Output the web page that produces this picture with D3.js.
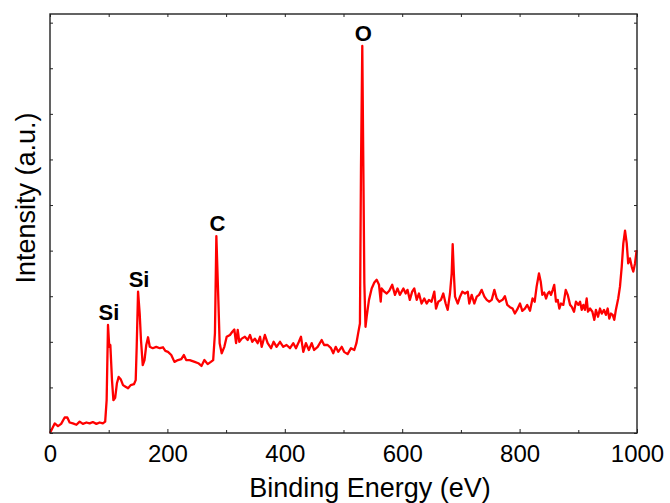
<!DOCTYPE html>
<html>
<head>
<meta charset="utf-8">
<script src="https://cdn.jsdelivr.net/npm/d3@7"></script>
<style>
  body { margin: 0; background: #fff; }
  svg text { font-family: "Liberation Sans", Arial, sans-serif; fill: #000; }
  .frame { fill: none; stroke: #222; stroke-width: 1.4; }
  .axis path { display: none; }
  .axis line { stroke: #222; stroke-width: 1; }
  .spectrum { fill: none; stroke: #ff0000; stroke-width: 2.3; stroke-linejoin: round; }
</style>
</head>
<body>
<script>

// Binding energy (eV).
var energy = [
  0, 8, 13.6, 19, 25, 29.5, 33.5, 39, 45, 50.5, 56, 62, 67.6, 73, 79, 84.6, 90, 94,
  96.5, 98.8, 101, 102.8, 105.6, 108, 111, 114, 117, 120.4, 124.4, 128, 133, 137.5,
  143, 146, 147.7, 150, 152.8, 155, 158, 161, 164, 167, 170, 175, 181, 187, 192.5,
  196.5, 201, 206.6, 212, 218, 223.7, 228, 232, 238, 246.5, 252.6, 258, 263, 268.6,
  274, 278, 281, 283.4, 286.8, 289, 292.5, 297, 301, 306.6, 310.6, 314, 317, 319.8,
  322.5, 326.6, 332, 336.8, 340.7, 344.6, 349, 353.8, 357.8, 360.6, 366, 370.8,
  376.5, 381, 386, 391.8, 397.4, 403, 408.9, 414.5, 419, 424, 427.6, 431.5, 436,
  441, 445.8, 450, 456, 462.8, 467, 473, 478.7, 482.6, 486.7, 491, 497, 501, 507,
  512.8, 518.4, 522, 525, 528, 529.8, 532, 533.8, 535.5, 537.5, 539.5, 543.4, 548,
  552.5, 556.5, 560.5, 563.4, 565, 569.5, 573.6, 578, 583, 587.7, 592, 596, 602,
  606, 609, 613, 617, 620.6, 624.7, 628.6, 633, 637.6, 641.7, 645.6, 650, 654.7,
  657.6, 661.5, 666, 670, 674, 677.5, 681.4, 684.3, 686, 688, 690, 694.6, 698.5,
  702.4, 707, 711.6, 714.3, 718.4, 722.8, 727, 731, 735.4, 740, 744, 748, 752.5,
  757, 761, 765.4, 771, 775, 779, 783.6, 788, 792, 796, 800.7, 804.6, 809, 813,
  817.7, 822, 825.7, 829, 833, 836, 838.7, 842, 845, 848, 850.6, 853.5, 856.4, 859,
  862, 865, 867.7, 870.5, 874.5, 878.6, 882, 886, 888.8, 892.7, 896, 900, 903,
  905.8, 908.6, 911.4, 914.3, 916.5, 920, 924, 927.3, 930, 933.6, 937, 940, 943.8,
  947, 950, 952.8, 955.7, 958.6, 961.3, 964, 968, 971, 974, 976.7, 979.6, 982.5,
  985, 988, 991, 993.7, 996.6, 999.4
];

// Intensity (arbitrary units, one unit per axis tick).
var intensity = [
  0, 0.21, 0.15, 0.2, 0.34, 0.34, 0.23, 0.21, 0.18, 0.25, 0.2, 0.23, 0.21, 0.24, 0.2, 0.23, 0.21, 0.25,
  0.72, 2.37, 1.89, 1.93, 1.16, 0.72, 0.77, 1.09, 1.23, 1.18, 1.05, 1.02, 0.98, 1.05,
  1.07, 1.16, 1.89, 3.1, 2.62, 2.04, 1.49, 1.6, 1.93, 2.1, 1.89, 1.86, 1.89, 1.86, 1.88,
  1.8, 1.78, 1.71, 1.56, 1.6, 1.62, 1.71, 1.6, 1.6, 1.56, 1.53, 1.47, 1.6, 1.51,
  1.56, 1.6, 2.19, 4.32, 2.92, 1.97, 1.75, 1.89, 2.11, 2.15, 2.22, 2.27, 1.97, 2.26,
  2.0, 2.07, 2.11, 2.04, 2.15, 2.0, 2.07, 1.97, 2.11, 1.89, 2.15, 1.97,
  1.86, 2.0, 1.89, 2.0, 1.89, 1.93, 1.86, 1.97, 1.86, 2.0, 2.11, 1.78, 1.97,
  1.82, 1.97, 1.82, 1.89, 2.04, 1.93, 1.93, 1.86, 1.75, 1.89, 1.78, 1.89, 1.78, 1.73,
  1.86, 1.82, 1.97, 2.19, 2.4, 5.84, 8.49, 5.84, 3.29, 2.33, 2.55, 2.92, 3.17,
  3.3, 3.36, 3.25, 2.88, 3.17, 3.1, 3.06, 3.12, 3.25, 3.03, 3.17, 3.03, 3.17,
  3.06, 3.14, 2.92, 3.1, 3.17, 2.92, 3.06, 2.84, 2.95, 2.84, 2.92, 2.88, 3.1,
  2.73, 2.88, 2.92, 3.06, 2.84, 2.7, 3.06, 3.5, 4.14, 3.5, 2.99, 2.84, 2.99,
  3.1, 3.06, 3.1, 2.84, 3.03, 2.84, 2.99, 3.03, 3.14, 2.99, 2.92, 2.88, 2.92,
  3.14, 2.95, 2.88, 2.92, 3.0, 2.81, 2.76, 2.73, 2.62, 2.71, 2.84, 2.68, 2.73, 2.81,
  2.68, 2.95, 2.88, 3.21, 3.5, 3.32, 3.03, 3.08, 2.95, 3.06, 3.1, 3.03, 3.14, 3.25,
  2.88, 2.92, 2.73, 2.84, 2.81, 3.14, 3.03, 2.81, 2.77, 2.66, 2.88, 2.81, 2.88,
  2.7, 2.81, 2.7, 2.95, 2.66, 2.73, 2.66, 2.48, 2.7, 2.55, 2.73, 2.62, 2.7,
  2.59, 2.73, 2.51, 2.62, 2.59, 2.48, 2.7, 2.95, 3.21, 3.65, 4.16, 4.44, 4.16,
  3.72, 3.83, 3.65, 3.54, 3.72, 4.01
];

// Peak labels.
var peakNames = ['Si', 'Si', 'C', 'O'];
var peakEnergy = [98.8, 150, 283.4, 532];
var peakHeight = [2.37, 3.1, 4.32, 8.49];

// Axis ticks.
var xMajorTicks = [0, 200, 400, 600, 800, 1000];
var xMinorTicks = [100, 300, 500, 700, 900];
var yTicks = [0, 1, 2, 3, 4, 5, 6, 7, 8, 9];

// Layout.
var width = 670, height = 503;
var margin = { top: 14, right: 33, bottom: 70, left: 50 };
var innerW = width - margin.left - margin.right;
var innerH = height - margin.top - margin.bottom;

var svg = d3.select('body').append('svg')
  .attr('width', width)
  .attr('height', height);

var g = svg.append('g')
  .attr('transform', 'translate(' + margin.left + ',' + margin.top + ')');

// Scales.
var x = d3.scaleLinear().domain([0, 1000]).range([0, innerW]);
var y = d3.scaleLinear().domain([0, 9.19]).range([innerH, 0]);

// Bottom axis, with labels.
g.append('g')
  .attr('class', 'axis')
  .attr('transform', 'translate(0,' + innerH + ')')
  .call(d3.axisBottom(x).tickValues(xMajorTicks).tickFormat(d3.format('d'))
    .tickSizeInner(-4).tickSizeOuter(0).tickPadding(12))
  .selectAll('text')
  .style('font-size', '24px');

// Minor ticks, bottom and top.
g.append('g')
  .attr('class', 'axis')
  .attr('transform', 'translate(0,' + innerH + ')')
  .call(d3.axisBottom(x).tickValues(xMinorTicks).tickFormat('').tickSizeInner(-3).tickSizeOuter(0));

g.append('g')
  .attr('class', 'axis')
  .call(d3.axisTop(x).tickValues(xMajorTicks.concat(xMinorTicks)).tickFormat('').tickSizeInner(-3).tickSizeOuter(0));

// Left and right ticks, no labels.
g.append('g')
  .attr('class', 'axis')
  .call(d3.axisLeft(y).tickValues(yTicks).tickFormat('').tickSizeInner(-3).tickSizeOuter(0));

g.append('g')
  .attr('class', 'axis')
  .attr('transform', 'translate(' + innerW + ',0)')
  .call(d3.axisRight(y).tickValues(yTicks).tickFormat('').tickSizeInner(-3).tickSizeOuter(0));

// Spectrum.
var line = d3.line()
  .x(function(d, i) { return x(energy[i]); })
  .y(function(d) { return y(d); });

g.append('path')
  .datum(intensity)
  .attr('class', 'spectrum')
  .attr('d', line);

// Frame.
g.append('rect')
  .attr('class', 'frame')
  .attr('width', innerW)
  .attr('height', innerH);

// Peak labels.
g.selectAll('.peak')
  .data(peakNames)
  .enter().append('text')
  .attr('class', 'peak')
  .attr('x', function(d, i) { return x(peakEnergy[i]) + 1; })
  .attr('y', function(d, i) { return y(peakHeight[i]) - 5; })
  .attr('text-anchor', 'middle')
  .style('font-size', '22px')
  .style('font-weight', 'bold')
  .text(function(d) { return d; });

// Axis titles.
svg.append('text')
  .attr('x', 370)
  .attr('y', 497)
  .attr('text-anchor', 'middle')
  .style('font-size', '27px')
  .text('Binding Energy (eV)');

svg.append('text')
  .attr('transform', 'translate(35,198) rotate(-90)')
  .attr('text-anchor', 'middle')
  .style('font-size', '27px')
  .text('Intensity (a.u.)');

</script>
</body>
</html>
